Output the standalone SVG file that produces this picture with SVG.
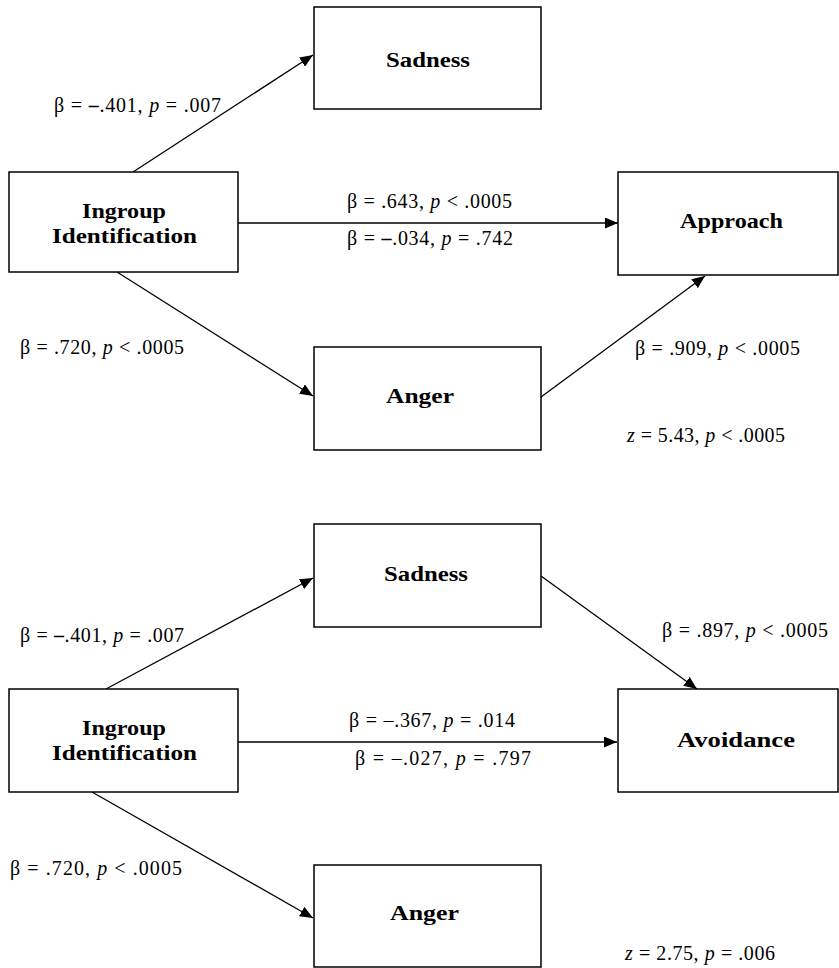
<svg xmlns="http://www.w3.org/2000/svg" width="839" height="968" viewBox="0 0 839 968">
<style>
.box{fill:#fff;stroke:#000;stroke-width:1.5}
.conn{stroke:#000;stroke-width:1.3;fill:none;marker-end:url(#ah)}
.lbl{font-family:"Liberation Serif","Times New Roman",serif;font-size:20px;fill:#000}
.nm{font-family:"Liberation Serif","Times New Roman",serif;font-size:22px;font-weight:bold;fill:#000}
.it{font-style:italic}
.b{font-weight:bold}
</style>
<defs>
<marker id="ah" viewBox="0 0 13 11" refX="13" refY="5.5" markerWidth="13" markerHeight="11" markerUnits="userSpaceOnUse" orient="auto">
<path d="M0,0 L13,5.5 L0,11 z" fill="#000"/>
</marker>
</defs>
<rect width="839" height="968" fill="#fff"/>

<g id="connectors">
<line class="conn" x1="133" y1="172" x2="313" y2="55"/>
<line class="conn" x1="238" y1="223" x2="618" y2="223"/>
<line class="conn" x1="117" y1="272" x2="313" y2="396"/>
<line class="conn" x1="541" y1="397" x2="705" y2="276"/>
<line class="conn" x1="106" y1="689" x2="313" y2="578"/>
<line class="conn" x1="238" y1="742" x2="617" y2="742"/>
<line class="conn" x1="541" y1="576" x2="697" y2="689"/>
<line class="conn" x1="92" y1="792" x2="313" y2="918"/>
</g>

<g id="top-sadness">
<rect class="box" x="314" y="7" width="227" height="102"/>
<text class="nm" x="386" y="67" textLength="84" lengthAdjust="spacingAndGlyphs">Sadness</text>
</g>
<g id="top-ingroup">
<rect class="box" x="9" y="172" width="229" height="100"/>
<text class="nm" x="82" y="218" textLength="84" lengthAdjust="spacingAndGlyphs">Ingroup</text>
<text class="nm" x="52" y="243" textLength="145" lengthAdjust="spacingAndGlyphs">Identification</text>
</g>
<g id="top-approach">
<rect class="box" x="618" y="172" width="220" height="103"/>
<text class="nm" x="680" y="228" textLength="103" lengthAdjust="spacingAndGlyphs">Approach</text>
</g>
<g id="top-anger">
<rect class="box" x="314" y="347" width="227" height="103"/>
<text class="nm" x="386" y="403" textLength="68" lengthAdjust="spacingAndGlyphs">Anger</text>
</g>

<g id="top-labels">
<text class="lbl" x="54" y="112" textLength="167">β = <tspan class="b">–</tspan>.401, <tspan class="it">p</tspan> = .007</text>
<text class="lbl" x="347" y="208" textLength="165">β = .643, <tspan class="it">p</tspan> &lt; .0005</text>
<text class="lbl" x="347" y="245" textLength="166">β = <tspan class="b">–</tspan>.034, <tspan class="it">p</tspan> = .742</text>
<text class="lbl" x="20" y="354" textLength="164">β = .720, <tspan class="it">p</tspan> &lt; .0005</text>
<text class="lbl" x="635" y="355" textLength="165">β = .909, <tspan class="it">p</tspan> &lt; .0005</text>
<text class="lbl" x="627" y="442" textLength="158"><tspan class="it">z</tspan> = 5.43, <tspan class="it">p</tspan> &lt; .0005</text>
</g>

<g id="bottom-sadness">
<rect class="box" x="314" y="524" width="227" height="103"/>
<text class="nm" x="384" y="581" textLength="84" lengthAdjust="spacingAndGlyphs">Sadness</text>
</g>
<g id="bottom-ingroup">
<rect class="box" x="9" y="689" width="229" height="103"/>
<text class="nm" x="82" y="735" textLength="84" lengthAdjust="spacingAndGlyphs">Ingroup</text>
<text class="nm" x="52" y="760" textLength="145" lengthAdjust="spacingAndGlyphs">Identification</text>
</g>
<g id="bottom-avoidance">
<rect class="box" x="618" y="689" width="220" height="103"/>
<text class="nm" x="677" y="747" textLength="118" lengthAdjust="spacingAndGlyphs">Avoidance</text>
</g>
<g id="bottom-anger">
<rect class="box" x="314" y="865" width="227" height="102"/>
<text class="nm" x="390" y="920" textLength="69" lengthAdjust="spacingAndGlyphs">Anger</text>
</g>

<g id="bottom-labels">
<text class="lbl" x="20" y="642" textLength="164">β = <tspan class="b">–</tspan>.401, <tspan class="it">p</tspan> = .007</text>
<text class="lbl" x="349" y="727" textLength="166">β = –.367, <tspan class="it">p</tspan> = .014</text>
<text class="lbl" x="355" y="765" textLength="176">β = –.027, <tspan class="it">p</tspan> = .797</text>
<text class="lbl" x="662" y="637" textLength="166">β = .897, <tspan class="it">p</tspan> &lt; .0005</text>
<text class="lbl" x="10" y="875" textLength="172">β = .720, <tspan class="it">p</tspan> &lt; .0005</text>
<text class="lbl" x="625" y="960" textLength="150"><tspan class="it">z</tspan> = 2.75, <tspan class="it">p</tspan> = .006</text>
</g>
</svg>
